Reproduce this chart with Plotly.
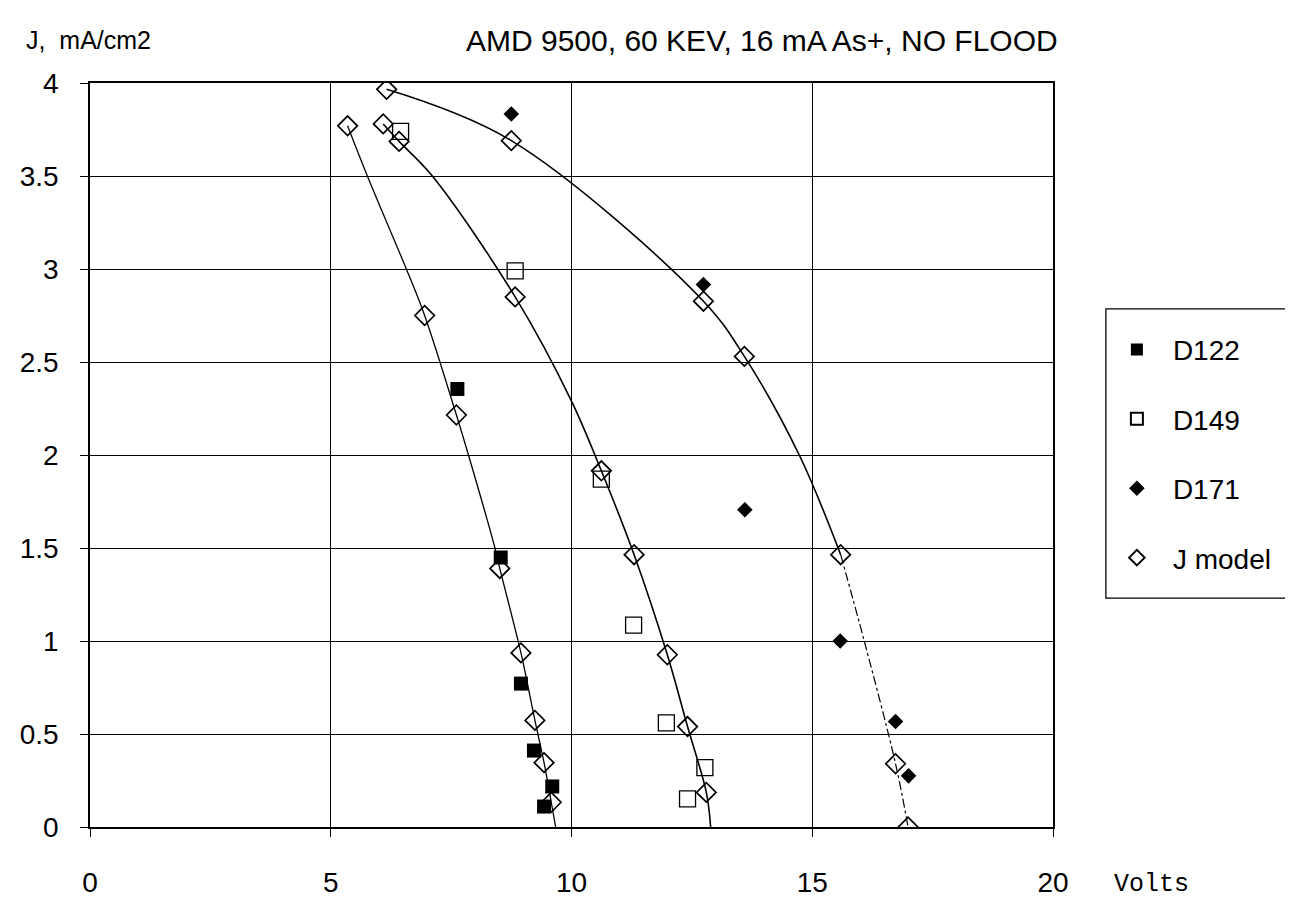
import plotly.graph_objects as go

# ---- data ----
d122_x = [7.63, 8.53, 8.95, 9.22, 9.60, 9.43]
d122_y = [2.355, 1.449, 0.771, 0.411, 0.218, 0.11]

d149_x = [6.45, 8.83, 10.62, 11.29, 11.97, 12.77, 12.41]
d149_y = [3.74, 2.99, 1.87, 1.085, 0.56, 0.319, 0.151]

d171_x = [8.75, 12.74, 13.60, 15.58, 16.73, 17.00]
d171_y = [3.833, 2.916, 1.706, 1.00, 0.567, 0.275]

jmodel_x = [5.35, 6.95, 7.61, 8.51, 8.95, 9.24, 9.43, 9.58,
            6.09, 6.42, 8.83, 10.62, 11.30, 11.99, 12.41, 12.80,
            6.16, 8.75, 12.74, 13.59, 15.59, 16.73, 16.99]
jmodel_y = [3.77, 2.75, 2.215, 1.39, 0.936, 0.573, 0.346, 0.133,
            3.78, 3.686, 2.85, 1.915, 1.464, 0.926, 0.54, 0.186,
            3.966, 3.69, 2.827, 2.53, 1.464, 0.34, 0.0]

# model curves
curve_a_x = [5.35, 5.76, 6.57, 6.95, 7.61, 7.86, 8.41, 8.51, 8.95, 9.24, 9.43, 9.58, 9.67]
curve_a_y = [3.77, 3.50, 3.00, 2.75, 2.215, 2.00, 1.50, 1.39, 0.936, 0.573, 0.346, 0.133, 0.0]

curve_b_x = [6.09, 6.42, 7.11, 8.83, 10.00, 10.62, 11.30, 11.99, 12.41, 12.80, 12.89]
curve_b_y = [3.78, 3.686, 3.50, 2.85, 2.29, 1.915, 1.464, 0.926, 0.54, 0.186, 0.0]

curve_c_x = [6.16, 8.75, 12.74, 13.59, 14.73, 15.59]
curve_c_y = [3.966, 3.69, 2.827, 2.53, 2.00, 1.464]

curve_c_tail_x = [15.59, 16.08, 16.73, 16.99]
curve_c_tail_y = [1.464, 1.00, 0.34, 0.0]

x_ticks = [0, 5, 10, 15, 20]
y_ticks = [0, 0.5, 1, 1.5, 2, 2.5, 3, 3.5, 4]
y_ticklabels = ["0", "0.5", "1", "1.5", "2", "2.5", "3", "3.5", "4"]

FONT = "Liberation Sans, Arial, sans-serif"

# figure is placed 8px into the page by the default body margin
W, H = 1285, 902
ML, MR, MT, MB = 80, 240, 75, 76
PW, PH = W - ML - MR, H - MT - MB


def paper(px, py):
    """page pixel -> paper coords"""
    fx, fy = px - 8, py - 8
    return (fx - ML) / PW, (H - MB - fy) / PH


fig = go.Figure()

for cx, cy, w in [(curve_a_x, curve_a_y, 1.3), (curve_b_x, curve_b_y, 1.6), (curve_c_x, curve_c_y, 1.6)]:
    fig.add_trace(go.Scatter(x=cx, y=cy, mode="lines",
                             line=dict(color="black", width=w, shape="spline", smoothing=1.0),
                             showlegend=False, hoverinfo="skip"))
fig.add_trace(go.Scatter(x=curve_c_tail_x, y=curve_c_tail_y, mode="lines",
                         line=dict(color="black", width=1.2, shape="spline", dash="dashdot"),
                         showlegend=False, hoverinfo="skip"))

fig.add_trace(go.Scatter(x=d122_x, y=d122_y, mode="markers", name="D122", legendgroup="a",
                         marker=dict(symbol="square", size=14, color="black", line=dict(width=0))))
fig.add_trace(go.Scatter(x=d149_x, y=d149_y, mode="markers", name="D149", legendgroup="b",
                         marker=dict(symbol="square-open", size=16, color="black", line=dict(width=1.3))))
fig.add_trace(go.Scatter(x=d171_x, y=d171_y, mode="markers", name="D171", legendgroup="c",
                         marker=dict(symbol="diamond", size=12, color="black", line=dict(width=0))))
fig.add_trace(go.Scatter(x=jmodel_x, y=jmodel_y, mode="markers", name="J model", legendgroup="d",
                         marker=dict(symbol="diamond-open", size=15, color="black", line=dict(width=1.7))))

axis_common = dict(showgrid=True, gridcolor="black", gridwidth=1.4, showline=True, linecolor="black",
                   linewidth=1.6, mirror=True, ticks="outside", ticklen=8, tickcolor="black", tickwidth=1.4,
                   tickfont=dict(family=FONT, size=28, color="black"), zeroline=False)

fig.update_xaxes(range=[0, 20], tickvals=x_ticks, ticklabelstandoff=22, **axis_common)
fig.update_yaxes(range=[0, 4], tickvals=y_ticks, ticktext=y_ticklabels, ticklabelstandoff=16, **axis_common)

lx, ly = paper(1101, 327)
fig.update_layout(
    width=W, height=H,
    margin=dict(l=ML, r=MR, t=MT, b=MB),
    paper_bgcolor="white", plot_bgcolor="white",
    font=dict(family=FONT, color="black"),
    legend=dict(x=lx, y=ly, xanchor="left", yanchor="top", borderwidth=0,
                font=dict(family=FONT, size=28, color="black"), tracegroupgap=30, itemwidth=62,
                itemsizing="constant", bgcolor="rgba(0,0,0,0)"),
)

# legend frame
bx0, by0 = paper(1106, 603)
bx1, by1 = paper(1302, 311)
fig.add_shape(type="rect", xref="paper", yref="paper", x0=bx0, y0=by0, x1=bx1, y1=by1,
              line=dict(color="black", width=1.3), fillcolor="rgba(0,0,0,0)")

ax, ay = paper(22, 40)
tx, ty = paper(463, 40)
vx, vy = paper(1112, 892)
fig.add_annotation(text="J,  mA/cm2", x=ax, y=ay, xref="paper", yref="paper", xanchor="left", yanchor="middle",
                   showarrow=False, font=dict(family=FONT, size=25, color="black"))
fig.add_annotation(text="AMD 9500, 60 KEV, 16 mA As+, NO FLOOD", x=tx, y=ty, xref="paper", yref="paper",
                   xanchor="left", yanchor="middle", showarrow=False, font=dict(family=FONT, size=30, color="black"))
fig.add_annotation(text="Volts", x=vx, y=vy, xref="paper", yref="paper", xanchor="left", yanchor="middle",
                   showarrow=False, font=dict(family="Liberation Mono, Courier New, monospace", size=25, color="black"))

fig.write_html("out.html")
